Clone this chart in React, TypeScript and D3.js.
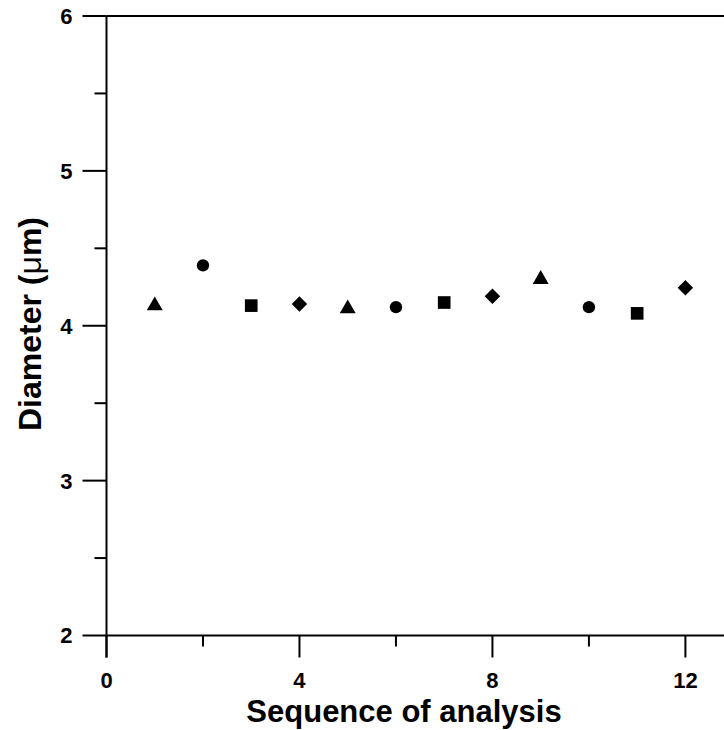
import React from "react";
import * as d3 from "d3";

const sequence = [1, 2, 3, 4, 5, 6, 7, 8, 9, 10, 11, 12];
const diameter = [4.13, 4.39, 4.13, 4.14, 4.11, 4.12, 4.15, 4.19, 4.30, 4.12, 4.08, 4.245];
const markers = ["triangle", "circle", "square", "diamond", "triangle", "circle", "square", "diamond", "triangle", "circle", "square", "diamond"];
const xMajorTicks = [0, 4, 8, 12];
const xMinorTicks = [2, 6, 10];
const yMajorTicks = [2, 3, 4, 5, 6];
const yMinorTicks = [2.5, 3.5, 4.5, 5.5];

const W = 724;
const H = 730;

export default function App() {
  const x = d3.scaleLinear().domain([0, 12.8]).range([106.5, 724]);
  const y = d3.scaleLinear().domain([2, 6]).range([635.5, 16]);
  const font = "'Liberation Sans', Arial, Helvetica, sans-serif";

  const symFor = (m: string) => {
    switch (m) {
      case "triangle":
        return { d: d3.symbol().type(d3.symbolTriangle).size(110)(), rot: 0 };
      case "circle":
        return { d: d3.symbol().type(d3.symbolCircle).size(120)(), rot: 0 };
      case "square":
        return { d: d3.symbol().type(d3.symbolSquare).size(160)(), rot: 0 };
      default:
        return { d: d3.symbol().type(d3.symbolSquare).size(120)(), rot: 45 };
    }
  };

  const [x0, x1] = x.range();
  const [yb, yt] = y.range();

  return (
    <svg
      width={W}
      height={H}
      style={{ position: "absolute", left: 0, top: 0, background: "#fff" }}
      fontFamily={font}
    >
      {/* axes lines */}
      <line x1={x0} x2={x0} y1={yt} y2={yb + 22} stroke="#000" strokeWidth={2} />
      <line x1={x0} x2={x1} y1={yb} y2={yb} stroke="#000" strokeWidth={2} />
      <line x1={x0} x2={x1} y1={yt} y2={yt} stroke="#000" strokeWidth={2} />

      {/* y ticks */}
      {yMajorTicks.map((t) => (
        <g key={"ym" + t}>
          <line x1={x0 - 24} x2={x0} y1={y(t)} y2={y(t)} stroke="#000" strokeWidth={2} />
          <text
            x={x0 - 34}
            y={y(t)}
            dy="0.36em"
            textAnchor="end"
            fontSize={22}
            fontWeight={700}
          >
            {t}
          </text>
        </g>
      ))}
      {yMinorTicks.map((t) => (
        <line key={"yn" + t} x1={x0 - 12} x2={x0} y1={y(t)} y2={y(t)} stroke="#000" strokeWidth={2} />
      ))}

      {/* x ticks */}
      {xMajorTicks.map((t) => (
        <g key={"xm" + t}>
          <line x1={x(t)} x2={x(t)} y1={yb} y2={yb + 22} stroke="#000" strokeWidth={2} />
          <text x={x(t)} y={yb + 52} textAnchor="middle" fontSize={22} fontWeight={700}>
            {t}
          </text>
        </g>
      ))}
      {xMinorTicks.map((t) => (
        <line key={"xn" + t} x1={x(t)} x2={x(t)} y1={yb} y2={yb + 11} stroke="#000" strokeWidth={2} />
      ))}

      {/* titles */}
      <text x={404} y={722} textAnchor="middle" fontSize={31} fontWeight={700}>
        Sequence of analysis
      </text>
      <text
        transform={`translate(41, 324) rotate(-90)`}
        textAnchor="middle"
        fontSize={32}
        fontWeight={700}
      >
        Diameter (<tspan fontWeight={400}>μ</tspan>m)
      </text>

      {/* points */}
      {sequence.map((s, i) => {
        const sym = symFor(markers[i]);
        return (
          <path
            key={"p" + i}
            d={sym.d || ""}
            transform={`translate(${x(s)}, ${y(diameter[i])}) rotate(${sym.rot})`}
            fill="#000"
          />
        );
      })}
    </svg>
  );
}
